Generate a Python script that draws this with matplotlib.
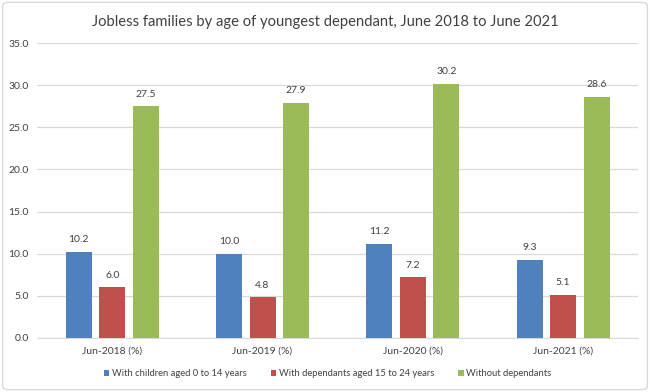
import matplotlib
matplotlib.use("Agg")
import matplotlib.pyplot as plt
import numpy as np
from matplotlib.patches import FancyBboxPatch

categories = ["Jun-2018 (%)", "Jun-2019 (%)", "Jun-2020 (%)", "Jun-2021 (%)"]
series_names = ["With children aged 0 to 14 years",
                "With dependants aged 15 to 24 years",
                "Without dependants"]
children = [10.2, 10.0, 11.2, 9.3]
dependants = [6.0, 4.8, 7.2, 5.1]
without = [27.5, 27.9, 30.2, 28.6]
yticks = [0.0, 5.0, 10.0, 15.0, 20.0, 25.0, 30.0, 35.0]

colors = ["#4F81BD", "#C0504D", "#9BBB59"]
plt.rcParams['font.family'] = ['Lato', 'DejaVu Sans']

fig = plt.figure(figsize=(6.5, 3.92), dpi=100)
ax = fig.add_axes([0.057, 0.138, 0.925, 0.752])

x = np.arange(len(categories))
width = 0.173
offs = [-0.223, 0.0, 0.223]
for vals, off, c, name in zip([children, dependants, without], offs, colors, series_names):
    bars = ax.bar(x + off, vals, width, color=c, label=name, zorder=3)
    for b, v in zip(bars, vals):
        ax.text(b.get_x() + b.get_width() / 2, v + 0.9, f"{v:.1f}",
                ha="center", va="bottom", fontsize=7.5, color="#404040")

ax.set_xlim(-0.5, len(categories) - 0.5)
ax.set_ylim(0, 35)
ax.set_yticks(yticks)
ax.set_yticklabels([f"{t:.1f}" for t in yticks], fontsize=7.5, color="#404040")
ax.set_xticks(x)
ax.set_xticklabels(categories, fontsize=7.5, color="#404040")
ax.tick_params(length=0, pad=6)
ax.yaxis.grid(True, color="#D9D9D9", linewidth=0.9, zorder=0)
for s in ["top", "right", "left"]:
    ax.spines[s].set_visible(False)
ax.spines["bottom"].set_color("#D9D9D9")

fig.text(0.5, 0.945, "Jobless families by age of youngest dependant, June 2018 to June 2021",
         ha="center", va="center", fontsize=10.6, color="#404040")

fig.legend(loc="center", bbox_to_anchor=(0.504, 0.046), ncol=3, frameon=False,
           fontsize=6.75, handlelength=0.55, handleheight=0.55, handletextpad=0.3,
           columnspacing=2.6, labelcolor="#404040")

border = FancyBboxPatch((0.004, 0.006), 0.992, 0.988, boxstyle="round,pad=0,rounding_size=0.01",
                        transform=fig.transFigure, fill=False, edgecolor="#D9D9D9", linewidth=1)
fig.patches.append(border)

fig.savefig("out.png", dpi=100)
